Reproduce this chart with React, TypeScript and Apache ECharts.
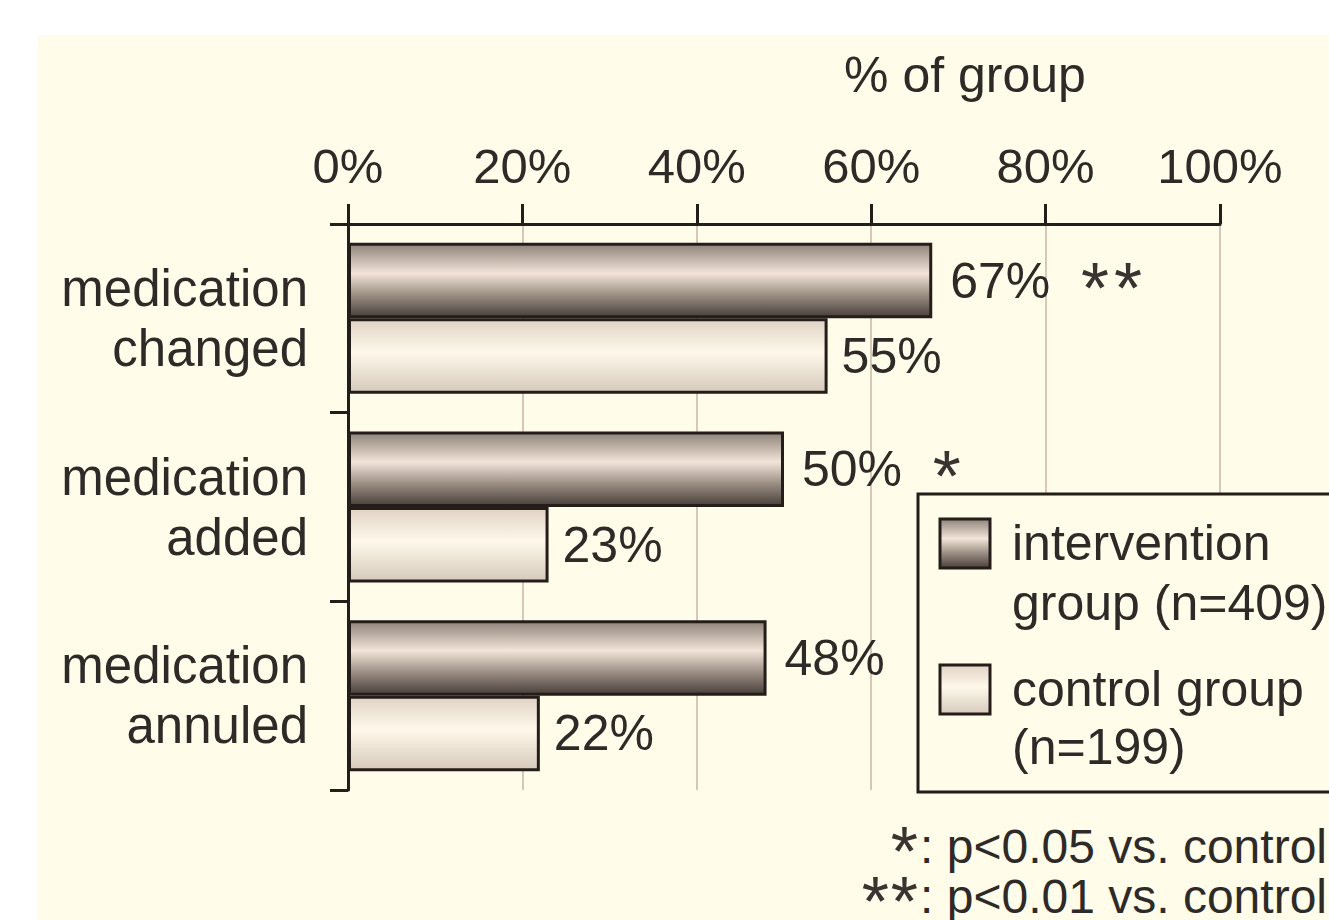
import React, { useEffect, useRef } from "react";
import * as echarts from "echarts";

const categories = ["medication\nchanged", "medication\nadded", "medication\nannuled"];
const interventionValues = [67, 50, 48];
const controlValues = [55, 23, 22];
const significance = ["**", "*", ""];
const tickValues = [0, 20, 40, 60, 80, 100];
const legendNames = ["intervention\ngroup (n=409)", "control group\n(n=199)"];
const footnoteMarks = ["*", "**"];
const footnoteTexts = [": p<0.05 vs. control", ": p<0.01 vs. control"];

const FONT = "'Liberation Sans', Arial, sans-serif";
const TEXT = "#2e2a28";
const CREAM = "#fffdea";
const BORDER = "#241d19";

const interGrad = () =>
  new echarts.graphic.LinearGradient(0, 0, 0, 1, [
    { offset: 0, color: "#8f847b" },
    { offset: 0.4, color: "#f2e4d8" },
    { offset: 0.7, color: "#9a8e84" },
    { offset: 1, color: "#4a403a" },
  ]);
const ctrlGrad = () =>
  new echarts.graphic.LinearGradient(0, 0, 0, 1, [
    { offset: 0, color: "#e0d3c5" },
    { offset: 0.45, color: "#fff8ea" },
    { offset: 1, color: "#d6cabc" },
  ]);

const astRich = {
  v: { fontSize: 50, color: TEXT, fontFamily: FONT },
  s: { fontSize: 72, color: "#3a3430", fontFamily: FONT, padding: [14, 2, 0, 3] },
  g: { fontSize: 50, color: TEXT, fontFamily: FONT },
};

const markRich = (mark: string) => mark.split("").map((c) => `{s|${c}}`).join("");

export default function App() {
  const ref = useRef<HTMLDivElement>(null);
  useEffect(() => {
    document.body.style.margin = "0";
    const chart = echarts.init(ref.current!, null, { renderer: "svg" });
    const footRich = {
      s: { fontSize: 70, lineHeight: 36, fill: "#3a3430", fontFamily: FONT, padding: [12, 2, 0, 0] },
      t: { fontSize: 48, lineHeight: 48, fill: TEXT, fontFamily: FONT },
    };
    chart.setOption({
      animation: false,
      backgroundColor: "#ffffff",
      textStyle: { fontFamily: FONT },
      grid: { left: 348, top: 224, width: 872, height: 566, containLabel: false },
      xAxis: {
        type: "value",
        position: "top",
        min: tickValues[0],
        max: tickValues[tickValues.length - 1],
        interval: 20,
        axisLine: { show: true, lineStyle: { color: BORDER, width: 3 } },
        axisTick: { show: true, length: 20, lineStyle: { color: BORDER, width: 3 } },
        axisLabel: { formatter: "{value}%", fontSize: 49, color: TEXT, margin: 34, fontFamily: FONT },
        splitLine: { show: true, lineStyle: { color: "#d6c7b9", width: 2 } },
      },
      yAxis: {
        type: "category",
        data: categories,
        inverse: true,
        axisLine: { show: true, lineStyle: { color: BORDER, width: 3 } },
        axisTick: { show: true, length: 18, lineStyle: { color: BORDER, width: 3 } },
        axisLabel: { fontSize: 51, lineHeight: 60, color: TEXT, margin: 40, align: "right", fontFamily: FONT },
        splitLine: { show: false },
      },
      series: [
        {
          name: legendNames[0],
          type: "bar",
          data: interventionValues,
          barGap: "0%",
          barCategoryGap: "20%",
          itemStyle: { color: interGrad(), borderColor: BORDER, borderWidth: 3 },
          label: {
            show: true,
            position: "right",
            distance: 18,
            fontSize: 50,
            color: TEXT,
            fontFamily: FONT,
            rich: astRich,
            formatter: (p: any) => {
              const m = significance[p.dataIndex];
              return `{v|${p.value}%}` + (m ? `{g|  }${markRich(m)}` : "");
            },
          },
          z: 3,
        },
        {
          name: legendNames[1],
          type: "bar",
          data: controlValues,
          barGap: "0%",
          barCategoryGap: "20%",
          itemStyle: { color: ctrlGrad(), borderColor: BORDER, borderWidth: 3 },
          label: {
            show: true,
            position: "right",
            distance: 14,
            fontSize: 50,
            color: TEXT,
            fontFamily: FONT,
            formatter: "{c}%",
          },
          z: 3,
        },
      ],
      graphic: [
        {
          type: "rect",
          z: -10,
          silent: true,
          shape: { x: 38, y: 35, width: 1400, height: 1000 },
          style: { fill: CREAM },
        },
        {
          type: "text",
          z: 5,
          x: 965,
          y: 75,
          style: {
            text: "% of group",
            font: `50px ${FONT}`,
            fill: TEXT,
            textAlign: "center",
            textVerticalAlign: "middle",
          },
        },
        {
          type: "rect",
          z: 20,
          shape: { x: 918, y: 494, width: 500, height: 298 },
          style: { fill: CREAM, stroke: BORDER, lineWidth: 3 },
        },
        {
          type: "rect",
          z: 21,
          shape: { x: 940, y: 519, width: 50, height: 49 },
          style: { fill: interGrad(), stroke: BORDER, lineWidth: 3 },
        },
        {
          type: "rect",
          z: 21,
          shape: { x: 940, y: 665, width: 50, height: 49 },
          style: { fill: ctrlGrad(), stroke: BORDER, lineWidth: 3 },
        },
        {
          type: "text",
          z: 21,
          x: 1012,
          y: 513,
          style: { text: legendNames[0], font: `50px ${FONT}`, lineHeight: 60, fill: TEXT, textAlign: "left", textVerticalAlign: "top" },
        },
        {
          type: "text",
          z: 21,
          x: 1012,
          y: 660,
          style: { text: legendNames[1], font: `50px ${FONT}`, lineHeight: 58, fill: TEXT, textAlign: "left", textVerticalAlign: "top" },
        },
        {
          type: "text",
          z: 21,
          x: 1327,
          y: 846,
          style: {
            text: `${markRich(footnoteMarks[0])}{t|${footnoteTexts[0]}}`,
            rich: footRich,
            textAlign: "right",
            textVerticalAlign: "middle",
          },
        },
        {
          type: "text",
          z: 21,
          x: 1327,
          y: 896,
          style: {
            text: `${markRich(footnoteMarks[1])}{t|${footnoteTexts[1]}}`,
            rich: footRich,
            textAlign: "right",
            textVerticalAlign: "middle",
          },
        },
      ],
    });
    return () => chart.dispose();
  }, []);
  return <div ref={ref} style={{ width: 1329, height: 920, overflow: "hidden" }} />;
}
